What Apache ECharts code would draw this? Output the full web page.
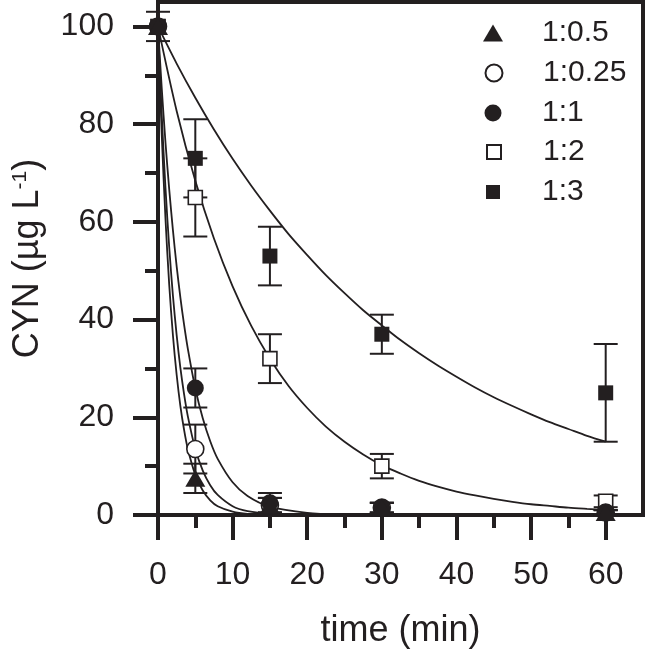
<!DOCTYPE html>
<html>
<head>
<meta charset="utf-8">
<script src="https://cdn.jsdelivr.net/npm/echarts@6/dist/echarts.min.js"></script>
<style>
html,body{margin:0;padding:0;background:#fff;}
#c{width:647px;height:662px;}
</style>
</head>
<body>
<div id="c"></div>
<script>
// ---- data ----
var times = [0, 5, 15, 30, 60];
var names = ['1:0.5', '1:0.25', '1:1', '1:2', '1:3'];
var v05  = [100, 7.5, 2, 1.5, 0.5];
var e05  = [0, 3, 1.5, 1, 0.5];
var v025 = [100, 13.5, 2, 1.5, 0.5];
var e025 = [0, 5, 1.5, 1, 0.5];
var v1   = [100, 26, 2.5, 1.5, 0.5];
var e1   = [0, 4, 2, 1, 0.5];
var v2   = [100, 65, 32, 10, 2.8];
var e2   = [0, 8, 5, 2.5, 1.2];
var v3   = [100, 73, 53, 37, 25];
var e3   = [3, 8, 6, 4, 10];

// fitted curves
var fitTfast = [0, 0.5, 1, 1.5, 2, 2.5, 3, 3.5, 4, 5, 6, 7, 8, 10, 12, 15, 20, 25, 30];
var fitV05   = [100, 77.9, 60.7, 47.2, 36.8, 28.7, 22.3, 17.4, 13.5, 8.2, 5.0, 3.0, 1.8, 0.7, 0.25, 0.06, 0.01, 0, 0];
var fitV025  = [100, 81.9, 67.0, 54.9, 44.9, 36.8, 30.1, 24.7, 20.2, 13.5, 9.1, 6.1, 4.1, 1.8, 0.8, 0.25, 0.03, 0, 0];
var fitV1    = [100, 87.4, 76.3, 66.7, 58.3, 50.9, 44.5, 38.9, 34.0, 25.9, 19.8, 15.1, 11.5, 6.7, 3.9, 1.7, 0.45, 0.1, 0.03];
var fitTslow = [0, 2.5, 5, 7.5, 10, 12.5, 15, 17.5, 20, 22.5, 25, 27.5, 30, 32.5, 35, 37.5, 40, 42.5, 45, 47.5, 50, 52.5, 55, 57.5, 60];
var fitV2    = [100, 82.7, 68.4, 56.6, 46.8, 38.7, 32.0, 26.4, 21.9, 18.1, 15.0, 12.4, 10.2, 8.5, 7.0, 5.8, 4.8, 4.0, 3.3, 2.7, 2.2, 1.85, 1.5, 1.26, 1.05];
var fitV3    = [100, 92.4, 85.4, 78.9, 72.9, 67.4, 62.3, 57.5, 53.2, 49.1, 45.4, 41.9, 38.8, 35.8, 33.1, 30.6, 28.3, 26.1, 24.1, 22.3, 20.6, 19.0, 17.6, 16.2, 15.0];

// axis ticks
var xTicks = [0, 10, 20, 30, 40, 50, 60];
var xMinor = [5, 15, 25, 35, 45, 55];
var yTicks = [0, 20, 40, 60, 80, 100];
var yMinor = [10, 30, 50, 70, 90];

// ---- chart ----
var C = '#231f20';
var FF = 'Liberation Sans, Arial, sans-serif';

function zip(a, b) { return a.map(function (x, i) { return [x, b[i]]; }); }
function errData(v, e) {
  var out = [];
  for (var i = 0; i < times.length; i++) {
    if (e[i] > 0) out.push([times[i], v[i] - e[i], v[i] + e[i]]);
  }
  return out;
}
function renderErr(params, api) {
  var x = api.value(0), lo = api.value(1), hi = api.value(2);
  var p1 = api.coord([x, hi]), p2 = api.coord([x, lo]);
  var hw = 12;
  var st = { stroke: C, lineWidth: 2, fill: null };
  return {
    type: 'group',
    children: [
      { type: 'line', shape: { x1: p1[0], y1: p1[1], x2: p2[0], y2: p2[1] }, style: st },
      { type: 'line', shape: { x1: p1[0] - hw, y1: p1[1], x2: p1[0] + hw, y2: p1[1] }, style: st },
      { type: 'line', shape: { x1: p2[0] - hw, y1: p2[1], x2: p2[0] + hw, y2: p2[1] }, style: st }
    ]
  };
}
function curve(name, t, v) {
  return {
    name: name, type: 'line', data: zip(t, v), showSymbol: false, symbol: 'none',
    smooth: 0.3, z: 2, silent: true,
    lineStyle: { color: C, width: 1.8 }, itemStyle: { color: C }
  };
}
function errSeries(name, v, e) {
  return { name: name + ' err', type: 'custom', renderItem: renderErr, data: errData(v, e), z: 3, silent: true };
}
var filled = { color: C, opacity: 1 };
var hollow = { color: '#fff', borderColor: C, borderWidth: 1.6, opacity: 1 };
function scat(name, v, symbol, size, style) {
  return { name: name, type: 'scatter', data: zip(times, v), symbol: symbol, symbolSize: size, itemStyle: style, z: 4 };
}

var series = [
  curve('fit 1:0.5', fitTfast, fitV05),
  curve('fit 1:0.25', fitTfast, fitV025),
  curve('fit 1:1', fitTfast, fitV1),
  curve('fit 1:2', fitTslow, fitV2),
  curve('fit 1:3', fitTslow, fitV3),
  errSeries('1:3', v3, e3),
  errSeries('1:2', v2, e2),
  errSeries('1:1', v1, e1),
  errSeries('1:0.25', v025, e025),
  errSeries('1:0.5', v05, e05),
  scat('1:2', v2, 'rect', 14, hollow),
  scat('1:0.25', v025, 'circle', 17, hollow),
  scat('1:3', v3, 'rect', 15, filled),
  scat('1:1', v1, 'circle', 17, filled),
  scat('1:0.5', v05, 'triangle', [20, 17], filled)
];

var rowY = [33, 73, 113, 152, 192];
var icons = ['triangle', 'circle', 'circle', 'rect', 'rect'];
var iconW = [20, 17, 17, 14, 14];
var iconH = [17, 17, 17, 14, 14];
var legends = names.map(function (n, i) {
  var w = iconW[i];
  return {
    data: [{ name: n, icon: icons[i] }],
    left: 493 - w / 2, top: rowY[i] - 15, padding: 0,
    itemWidth: w, itemHeight: iconH[i], selectedMode: false,
    textStyle: { fontSize: 30, color: C, fontFamily: FF, padding: [0, 0, 0, 542 - (493 + w / 2) - 5] }
  };
});

var chart = echarts.init(document.getElementById('c'), null, { renderer: 'canvas' });
chart.setOption({
  animation: false,
  backgroundColor: '#fff',
  grid: { left: 158, right: 4, top: 2, bottom: 147, show: true, borderColor: C, borderWidth: 4, backgroundColor: 'transparent' },
  legend: legends,
  xAxis: [
    {
      type: 'value', min: 0, max: 65, position: 'bottom',
      axisLine: { lineStyle: { color: C, width: 4 } },
      axisTick: { customValues: xTicks, length: 25, lineStyle: { color: C, width: 4 } },
      axisLabel: { customValues: xTicks, fontSize: 32, color: C, margin: 44, fontFamily: FF },
      splitLine: { show: false },
      name: 'time (min)', nameLocation: 'middle', nameGap: 98,
      nameTextStyle: { fontSize: 36, color: C, fontFamily: FF }
    },
    {
      type: 'value', min: 0, max: 65, position: 'bottom', gridIndex: 0,
      axisLine: { show: false },
      axisTick: { customValues: xMinor, length: 13, lineStyle: { color: C, width: 4 } },
      axisLabel: { show: false }, splitLine: { show: false }
    }
  ],
  yAxis: [
    {
      type: 'value', min: 0, max: 105, position: 'left',
      axisLine: { lineStyle: { color: C, width: 4 } },
      axisTick: { customValues: yTicks, length: 25, lineStyle: { color: C, width: 4 } },
      axisLabel: { customValues: yTicks, fontSize: 32, color: C, margin: 44, fontFamily: FF },
      splitLine: { show: false },
      name: '{a|CYN (µg L}{s|-1}{a|)}', nameLocation: 'middle', nameGap: 112,
      nameTextStyle: {
        color: C, fontFamily: FF,
        rich: {
          a: { fontSize: 36, color: C, fontFamily: FF },
          s: { fontSize: 21, color: C, fontFamily: FF, verticalAlign: 'top', padding: [0, 0, 14, 0] }
        }
      }
    },
    {
      type: 'value', min: 0, max: 105, position: 'left', gridIndex: 0,
      axisLine: { show: false },
      axisTick: { customValues: yMinor, length: 13, lineStyle: { color: C, width: 4 } },
      axisLabel: { show: false }, splitLine: { show: false }
    }
  ],
  series: series
});
</script>
</body>
</html>
